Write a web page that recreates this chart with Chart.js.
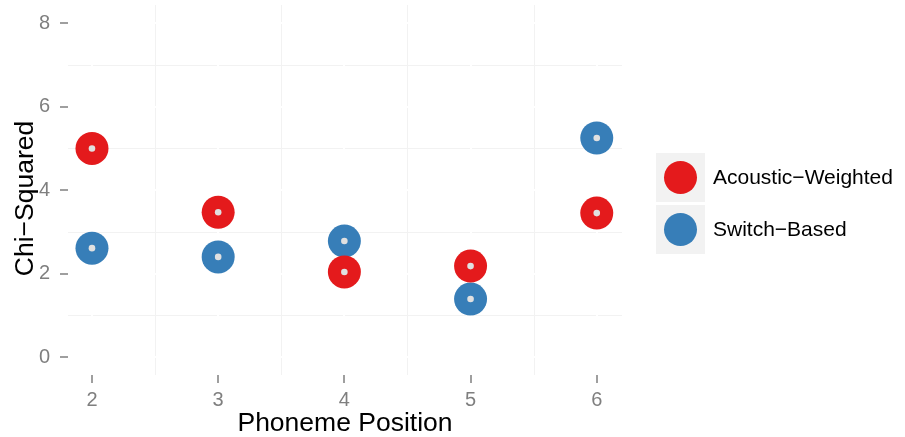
<!DOCTYPE html>
<html>
<head>
<meta charset="utf-8">
<script src="https://cdn.jsdelivr.net/npm/chart.js@4"></script>
<style>
  html, body { margin: 0; padding: 0; background: #fff; }
  #wrap { width: 905px; height: 437px; }
</style>
</head>
<body>
<div id="wrap"><canvas id="chiChart"></canvas></div>
<script>
const positions = [2, 3, 4, 5, 6];
const acousticWeighted = [5.0, 3.47, 2.04, 2.18, 3.45];
const switchBased = [2.61, 2.40, 2.78, 1.39, 5.25];
const yTicks = [0, 2, 4, 6, 8];
const xMinor = [2.5, 3.5, 4.5, 5.5];
const yMinor = [1, 3, 5, 7];
const seriesNames = ["Acoustic\u2212Weighted", "Switch\u2212Based"];
const seriesColors = ["#E41A1C", "#377EB8"];

const FONT = "'Liberation Sans', Arial, sans-serif";
const PANEL_TOP = 5;
const toPoints = vals => vals.map((v, i) => ({x: positions[i], y: v}));

// faint minor grid, drawn before the (white) major grid
const minorGrid = {
    id: "minorGrid",
    beforeDraw(chart) {
        const {ctx, chartArea: a, scales: {x, y}} = chart;
        ctx.save();
        ctx.strokeStyle = "#f2f2f2";
        ctx.lineWidth = 1;
        ctx.beginPath();
        xMinor.forEach(v => {
            const px = Math.round(x.getPixelForValue(v)) + 0.5;
            ctx.moveTo(px, Math.min(PANEL_TOP, a.top)); ctx.lineTo(px, a.bottom);
        });
        yMinor.forEach(v => {
            const py = Math.round(y.getPixelForValue(v)) + 0.5;
            ctx.moveTo(a.left, py); ctx.lineTo(a.right, py);
        });
        ctx.stroke();
        ctx.restore();
    }
};

// ggplot-like legend on the right
const sideLegend = {
    id: "sideLegend",
    afterDraw(chart) {
        const ctx = chart.ctx;
        const left = 656, top = 153, size = 49, gap = 3;
        ctx.save();
        seriesNames.forEach((name, i) => {
            const y0 = top + i * (size + gap);
            ctx.fillStyle = "#f2f2f2";
            ctx.fillRect(left, y0, size, size);
            ctx.fillStyle = seriesColors[i];
            ctx.beginPath();
            ctx.arc(left + size / 2, y0 + size / 2, 16.5, 0, Math.PI * 2);
            ctx.fill();
            ctx.fillStyle = "#000";
            ctx.font = "21px " + FONT;
            ctx.textBaseline = "middle";
            ctx.textAlign = "left";
            ctx.fillText(name, 713, y0 + size / 2 + 1);
        });
        ctx.restore();
    }
};

const bigPoint = (label, vals, color) => ({
    label: label,
    data: toPoints(vals),
    backgroundColor: color,
    borderWidth: 0,
    pointRadius: 16.5,
    pointHoverRadius: 16.5,
    order: 1
});
const innerDot = (vals) => ({
    label: "",
    data: toPoints(vals),
    backgroundColor: "#e0e0e0",
    borderWidth: 0,
    pointRadius: 3.3,
    pointHoverRadius: 3.3,
    order: 0
});

new Chart(document.getElementById("chiChart"), {
    type: "scatter",
    data: {
        datasets: [
            bigPoint(seriesNames[0], acousticWeighted, seriesColors[0]),
            bigPoint(seriesNames[1], switchBased, seriesColors[1]),
            innerDot(acousticWeighted),
            innerDot(switchBased)
        ]
    },
    options: {
        responsive: true,
        maintainAspectRatio: false,
        animation: false,
        events: [],
        layout: {padding: {top: 5, right: 283, left: 0, bottom: 0}},
        plugins: {legend: {display: false}, tooltip: {enabled: false}},
        scales: {
            x: {
                type: "linear",
                min: 1.81,
                max: 6.2,
                afterBuildTicks: s => { s.ticks = positions.map(v => ({value: v})); },
                afterFit: s => { s.height = 62; },
                border: {display: false},
                grid: {color: "#ffffff", lineWidth: 2, tickColor: "#7f7f7f", tickWidth: 1.5, tickLength: 8},
                ticks: {color: "#7f7f7f", font: {family: FONT, size: 20}, padding: 5},
                title: {display: true, text: "Phoneme Position", color: "#000",
                        font: {family: FONT, size: 26.5, lineHeight: 1}, padding: {top: 0, bottom: 0}}
            },
            y: {
                min: -0.43,
                max: 8.03,
                afterBuildTicks: s => { s.ticks = yTicks.map(v => ({value: v})); },
                afterFit: s => { s.width = 68; },
                border: {display: false},
                grid: {color: "#ffffff", lineWidth: 2, tickColor: "#7f7f7f", tickWidth: 1.5, tickLength: 8},
                ticks: {color: "#7f7f7f", font: {family: FONT, size: 20}, padding: 10},
                title: {display: true, text: "Chi\u2212Squared", color: "#000",
                        font: {family: FONT, size: 26.5, lineHeight: 1}, padding: {top: 12, bottom: 0}}
            }
        }
    },
    plugins: [minorGrid, sideLegend]
});
</script>
</body>
</html>
